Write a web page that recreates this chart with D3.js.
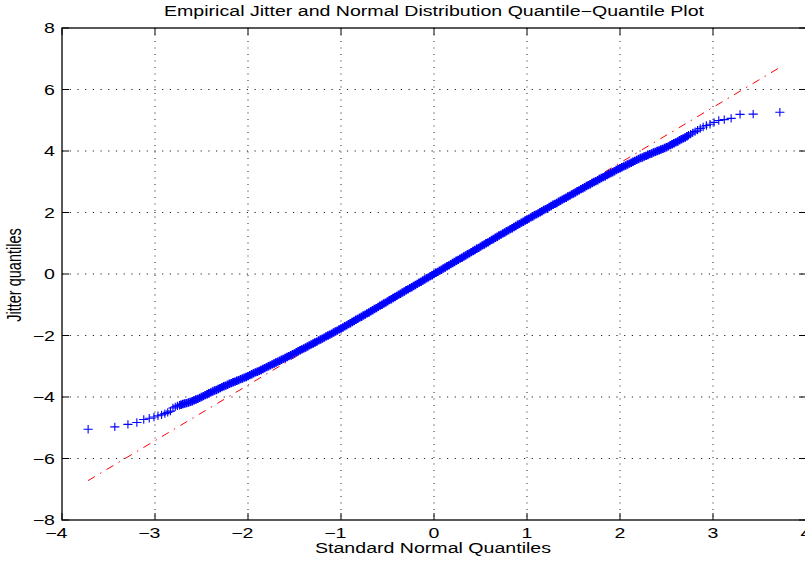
<!DOCTYPE html>
<html>
<head>
<meta charset="utf-8">
<script src="https://cdn.jsdelivr.net/npm/d3@7"></script>
<style>
  body { margin: 0; background: #fff; }
  text { font-family: "Liberation Sans", Arial, Helvetica, sans-serif; fill: #000; }
</style>
</head>
<body>
<script>
// chart size
var svgWidth = 805;
var svgHeight = 563;

// plot box (right edge falls just outside the window, like the original)
var margin = { top: 28, right: -1, bottom: 43, left: 62 };
var width = svgWidth - margin.left - margin.right;
var height = svgHeight - margin.top - margin.bottom;

// ticks
var tickX = [-4, -3, -2, -1, 0, 1, 2, 3, 4];
var tickY = [-8, -6, -4, -2, 0, 2, 4, 6, 8];

// lower tail, single points
var tailLoX = [-3.719, -3.432, -3.291, -3.195, -3.121, -3.062, -3.011, -2.968, -2.929, -2.894, -2.863, -2.834, -2.807, -2.782, -2.759, -2.737];
var tailLoY = [-5.05, -4.97, -4.89, -4.83, -4.73, -4.69, -4.65, -4.61, -4.58, -4.54, -4.50, -4.46, -4.36, -4.32, -4.29, -4.27];

// dense middle part, every 0.02
var midX = [
  -2.72, -2.70, -2.68, -2.66, -2.64, -2.62, -2.60, -2.58, -2.56, -2.54,
  -2.52, -2.50, -2.48, -2.46, -2.44, -2.42, -2.40, -2.38, -2.36, -2.34,
  -2.32, -2.30, -2.28, -2.26, -2.24, -2.22, -2.20, -2.18, -2.16, -2.14,
  -2.12, -2.10, -2.08, -2.06, -2.04, -2.02, -2.00, -1.98, -1.96, -1.94,
  -1.92, -1.90, -1.88, -1.86, -1.84, -1.82, -1.80, -1.78, -1.76, -1.74,
  -1.72, -1.70, -1.68, -1.66, -1.64, -1.62, -1.60, -1.58, -1.56, -1.54,
  -1.52, -1.50, -1.48, -1.46, -1.44, -1.42, -1.40, -1.38, -1.36, -1.34,
  -1.32, -1.30, -1.28, -1.26, -1.24, -1.22, -1.20, -1.18, -1.16, -1.14,
  -1.12, -1.10, -1.08, -1.06, -1.04, -1.02, -1.00, -0.98, -0.96, -0.94,
  -0.92, -0.90, -0.88, -0.86, -0.84, -0.82, -0.80, -0.78, -0.76, -0.74,
  -0.72, -0.70, -0.68, -0.66, -0.64, -0.62, -0.60, -0.58, -0.56, -0.54,
  -0.52, -0.50, -0.48, -0.46, -0.44, -0.42, -0.40, -0.38, -0.36, -0.34,
  -0.32, -0.30, -0.28, -0.26, -0.24, -0.22, -0.20, -0.18, -0.16, -0.14,
  -0.12, -0.10, -0.08, -0.06, -0.04, -0.02, 0.00, 0.02, 0.04, 0.06,
  0.08, 0.10, 0.12, 0.14, 0.16, 0.18, 0.20, 0.22, 0.24, 0.26,
  0.28, 0.30, 0.32, 0.34, 0.36, 0.38, 0.40, 0.42, 0.44, 0.46,
  0.48, 0.50, 0.52, 0.54, 0.56, 0.58, 0.60, 0.62, 0.64, 0.66,
  0.68, 0.70, 0.72, 0.74, 0.76, 0.78, 0.80, 0.82, 0.84, 0.86,
  0.88, 0.90, 0.92, 0.94, 0.96, 0.98, 1.00, 1.02, 1.04, 1.06,
  1.08, 1.10, 1.12, 1.14, 1.16, 1.18, 1.20, 1.22, 1.24, 1.26,
  1.28, 1.30, 1.32, 1.34, 1.36, 1.38, 1.40, 1.42, 1.44, 1.46,
  1.48, 1.50, 1.52, 1.54, 1.56, 1.58, 1.60, 1.62, 1.64, 1.66,
  1.68, 1.70, 1.72, 1.74, 1.76, 1.78, 1.80, 1.82, 1.84, 1.86,
  1.88, 1.90, 1.92, 1.94, 1.96, 1.98, 2.00, 2.02, 2.04, 2.06,
  2.08, 2.10, 2.12, 2.14, 2.16, 2.18, 2.20, 2.22, 2.24, 2.26,
  2.28, 2.30, 2.32, 2.34, 2.36, 2.38, 2.40, 2.42, 2.44, 2.46,
  2.48, 2.50, 2.52, 2.54, 2.56, 2.58, 2.60, 2.62, 2.64, 2.66,
  2.68, 2.70, 2.72];
var midY = [
  -4.25, -4.23, -4.21, -4.20, -4.18, -4.16, -4.14, -4.11, -4.08, -4.06,
  -4.03, -4.00, -3.97, -3.94, -3.91, -3.88, -3.85, -3.82, -3.79, -3.77,
  -3.74, -3.71, -3.68, -3.65, -3.63, -3.60, -3.57, -3.55, -3.52, -3.50,
  -3.47, -3.45, -3.42, -3.40, -3.37, -3.35, -3.32, -3.29, -3.26, -3.23,
  -3.20, -3.18, -3.15, -3.12, -3.09, -3.06, -3.03, -3.00, -2.97, -2.94,
  -2.91, -2.88, -2.85, -2.82, -2.79, -2.76, -2.73, -2.70, -2.67, -2.64,
  -2.61, -2.58, -2.54, -2.51, -2.48, -2.45, -2.42, -2.39, -2.36, -2.32,
  -2.29, -2.26, -2.23, -2.20, -2.16, -2.13, -2.10, -2.07, -2.03, -2.00,
  -1.97, -1.94, -1.90, -1.87, -1.84, -1.80, -1.77, -1.74, -1.70, -1.67,
  -1.63, -1.60, -1.56, -1.53, -1.49, -1.46, -1.42, -1.39, -1.35, -1.32,
  -1.28, -1.25, -1.21, -1.18, -1.14, -1.11, -1.07, -1.03, -1.00, -0.96,
  -0.93, -0.89, -0.85, -0.82, -0.78, -0.75, -0.71, -0.67, -0.64, -0.60,
  -0.57, -0.53, -0.50, -0.46, -0.43, -0.39, -0.36, -0.32, -0.28, -0.25,
  -0.21, -0.18, -0.14, -0.11, -0.07, -0.04, 0.00, 0.04, 0.07, 0.11,
  0.14, 0.18, 0.21, 0.25, 0.28, 0.32, 0.36, 0.39, 0.43, 0.46,
  0.50, 0.53, 0.57, 0.60, 0.64, 0.67, 0.71, 0.75, 0.78, 0.82,
  0.85, 0.89, 0.93, 0.96, 1.00, 1.03, 1.07, 1.11, 1.14, 1.18,
  1.21, 1.25, 1.28, 1.32, 1.35, 1.39, 1.42, 1.46, 1.49, 1.53,
  1.56, 1.60, 1.63, 1.67, 1.70, 1.74, 1.77, 1.80, 1.84, 1.87,
  1.91, 1.94, 1.97, 2.01, 2.04, 2.08, 2.11, 2.14, 2.18, 2.21,
  2.25, 2.28, 2.31, 2.35, 2.38, 2.42, 2.45, 2.48, 2.52, 2.55,
  2.59, 2.62, 2.65, 2.69, 2.72, 2.76, 2.79, 2.82, 2.86, 2.89,
  2.92, 2.96, 2.99, 3.02, 3.05, 3.09, 3.12, 3.15, 3.18, 3.22,
  3.25, 3.28, 3.31, 3.34, 3.38, 3.41, 3.44, 3.47, 3.50, 3.53,
  3.56, 3.59, 3.62, 3.65, 3.68, 3.71, 3.74, 3.77, 3.79, 3.82,
  3.84, 3.87, 3.90, 3.92, 3.95, 3.97, 4.00, 4.02, 4.05, 4.07,
  4.10, 4.12, 4.15, 4.19, 4.22, 4.25, 4.28, 4.31, 4.35, 4.38,
  4.41, 4.44, 4.48];

// upper tail, single points
var tailHiX = [2.737, 2.759, 2.782, 2.807, 2.834, 2.863, 2.894, 2.929, 2.968, 3.011, 3.062, 3.121, 3.195, 3.291, 3.432, 3.719];
var tailHiY = [4.51, 4.55, 4.59, 4.63, 4.68, 4.73, 4.78, 4.83, 4.87, 4.93, 4.99, 5.02, 5.06, 5.19, 5.20, 5.26];

// red reference line end points
var refX = [-3.72, 3.72];
var refY = [-6.72, 6.72];

// text is stretched sideways in the original picture
var fontSize = 14.5;
var stretch = 1.35;

var svg = d3.select("body")
  .append("svg")
  .attr("width", svgWidth)
  .attr("height", svgHeight);

var chart = svg.append("g")
  .attr("transform", `translate(${margin.left}, ${margin.top})`);

var xScale = d3.scaleLinear()
  .domain([-4, 4])
  .range([0, width]);

var yScale = d3.scaleLinear()
  .domain([-8, 8])
  .range([height, 0]);

// dotted grid
chart.selectAll(".gridX")
  .data(tickX.slice(1, -1))
  .enter()
  .append("line")
  .attr("x1", d => xScale(d))
  .attr("x2", d => xScale(d))
  .attr("y1", 0)
  .attr("y2", height)
  .attr("stroke", "#222")
  .attr("stroke-width", 1)
  .attr("stroke-dasharray", "1,5.5");

chart.selectAll(".gridY")
  .data(tickY.slice(1, -1))
  .enter()
  .append("line")
  .attr("x1", 0)
  .attr("x2", width)
  .attr("y1", d => yScale(d))
  .attr("y2", d => yScale(d))
  .attr("stroke", "#222")
  .attr("stroke-width", 1)
  .attr("stroke-dasharray", "1.2,6.5");

// reference line (dash dot)
var refLine = d3.line()
  .x(d => xScale(d[0]))
  .y(d => yScale(d[1]));

chart.append("path")
  .datum(d3.zip(refX, refY))
  .attr("d", refLine)
  .attr("fill", "none")
  .attr("stroke", "#ff0000")
  .attr("stroke-width", 1)
  .attr("stroke-dasharray", "8,6,1.5,6");

// plus marker path
function plus(d) {
  var px = xScale(d[0]);
  var py = yScale(d[1]);
  return `M${px - 4.6},${py}H${px + 4.6}M${px},${py - 4.2}V${py + 4.2}`;
}

// dense band
chart.selectAll(".band")
  .data(d3.zip(midX, midY))
  .enter()
  .append("path")
  .attr("d", plus)
  .attr("fill", "none")
  .attr("stroke", "#0000ff")
  .attr("stroke-width", 1.8);

// single tail points
chart.selectAll(".tail")
  .data(d3.zip(tailLoX.concat(tailHiX), tailLoY.concat(tailHiY)))
  .enter()
  .append("path")
  .attr("d", plus)
  .attr("fill", "none")
  .attr("stroke", "#0000ff")
  .attr("stroke-width", 1.1);

// box and inward ticks
chart.append("rect")
  .attr("x", 0)
  .attr("y", 0)
  .attr("width", width)
  .attr("height", height)
  .attr("fill", "none")
  .attr("stroke", "#000")
  .attr("stroke-width", 1.3);

var tickLen = 7;
tickX.forEach(function (t) {
  chart.append("line")
    .attr("x1", xScale(t)).attr("x2", xScale(t))
    .attr("y1", height).attr("y2", height - tickLen)
    .attr("stroke", "#000");
  chart.append("line")
    .attr("x1", xScale(t)).attr("x2", xScale(t))
    .attr("y1", 0).attr("y2", tickLen)
    .attr("stroke", "#000");
});
tickY.forEach(function (t) {
  chart.append("line")
    .attr("x1", 0).attr("x2", tickLen)
    .attr("y1", yScale(t)).attr("y2", yScale(t))
    .attr("stroke", "#000");
  chart.append("line")
    .attr("x1", width).attr("x2", width - tickLen)
    .attr("y1", yScale(t)).attr("y2", yScale(t))
    .attr("stroke", "#000");
});

function label(t) {
  return t < 0 ? "\u2212" + Math.abs(t) : String(t);
}

// x tick labels, digit centred on the tick
chart.selectAll(".xLabel")
  .data(tickX)
  .enter()
  .append("text")
  .attr("transform", d => `translate(${xScale(d)}, ${height + 17.5}) scale(${stretch}, 1)`)
  .attr("x", fontSize * 0.278)
  .attr("text-anchor", "end")
  .style("font-size", fontSize + "px")
  .text(d => label(d));

// y tick labels
chart.selectAll(".yLabel")
  .data(tickY)
  .enter()
  .append("text")
  .attr("transform", d => `translate(-7, ${yScale(d) + 5}) scale(${stretch}, 1)`)
  .attr("text-anchor", "end")
  .style("font-size", fontSize + "px")
  .text(d => label(d));

// title and axis labels
svg.append("text")
  .attr("transform", `translate(434, 16) scale(${stretch}, 1)`)
  .attr("text-anchor", "middle")
  .style("font-size", fontSize + "px")
  .text("Empirical Jitter and Normal Distribution Quantile\u2212Quantile Plot");

svg.append("text")
  .attr("transform", `translate(433, 553) scale(${stretch}, 1)`)
  .attr("text-anchor", "middle")
  .style("font-size", fontSize + "px")
  .text("Standard Normal Quantiles");

svg.append("text")
  .attr("transform", `translate(21, 275) scale(${stretch}, 1) rotate(-90)`)
  .attr("text-anchor", "middle")
  .style("font-size", fontSize + "px")
  .text("Jitter quantiles");
</script>
</body>
</html>
